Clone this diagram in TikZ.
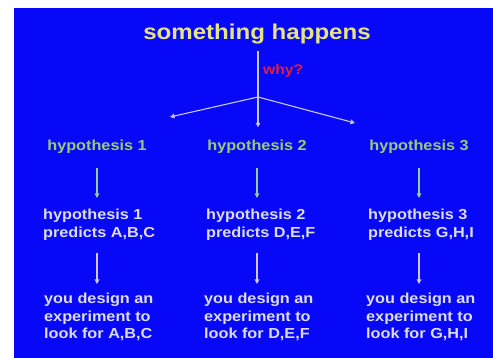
\documentclass[tikz,border=0pt]{standalone}
\usepackage{fontspec}
\newfontfamily\diagfont{Liberation Sans}[FakeStretch=1.12]
\usetikzlibrary{arrows.meta}
\definecolor{bgblue}{HTML}{0808F8}
\definecolor{titleyellow}{HTML}{E6E482}
\definecolor{whyred}{HTML}{E0203C}
\definecolor{hypgreen}{HTML}{98CC78}
\definecolor{txtwhite}{HTML}{DCDCF2}
\definecolor{arrlav}{HTML}{C8C8F0}
\definecolor{arrgreen}{HTML}{98CC88}
\begin{document}
\begin{tikzpicture}[x=1pt,y=-1pt,
  txt/.style={inner sep=0pt,font=\diagfont\bfseries\fontsize{14.5}{17.5}\selectfont},
  hyp/.style={txt,text=hypgreen,anchor=base},
  blk/.style={txt,text=txtwhite,align=left,anchor=north west},
  arr/.style={line width=1.1pt,-{Triangle[width=4.5pt,length=4.5pt]}},
  lavarr/.style={arr,draw=arrlav},
  grnarr/.style={arr,draw=arrgreen}]
\useasboundingbox (0,0) rectangle (493,358);
\fill[white] (0,0) rectangle (493,358);
\fill[bgblue] (14,8) rectangle (493,358);

\node[txt,anchor=base,text=titleyellow,font=\diagfont\bfseries\fontsize{21.5}{24}\selectfont] (title) at (257,40) {something happens};
\node[txt,anchor=base west,text=whyred,font=\diagfont\bfseries\fontsize{14}{16}\selectfont] (why) at (263,75) {why?};

\coordinate (br) at (258,97);
\coordinate (lend) at (170,117);
\coordinate (rend) at (355,123);

\node[hyp] (h1) at (97,151) {hypothesis 1};
\node[hyp] (h2) at (257,151) {hypothesis 2};
\node[hyp] (h3) at (419,151) {hypothesis 3};

\node[blk] (p1) at (43,209) {hypothesis 1\\predicts A,B,C};
\node[blk] (p2) at (206,209) {hypothesis 2\\predicts D,E,F};
\node[blk] (p3) at (368,209) {hypothesis 3\\predicts G,H,I};

\node[blk] (e1) at (44,293) {you design an\\experiment to\\look for A,B,C};
\node[blk] (e2) at (204,293) {you design an\\experiment to\\look for D,E,F};
\node[blk] (e3) at (366,293) {you design an\\experiment to\\look for G,H,I};

\draw[lavarr,shorten <=6pt,shorten >=13pt] (title.south -| br) -- (br |- h2.north);
\draw[lavarr] (br) -- (lend);
\draw[lavarr] (br) -- (rend);

\foreach \i in {1,2,3}{
  \draw[grnarr,shorten <=14pt,shorten >=11pt] (h\i.south) -- (h\i.south |- p\i.north);
  \draw[lavarr,shorten <=13pt,shorten >=9pt] (p\i.south -| h\i) -- (e\i.north -| h\i);
}
\end{tikzpicture}
\end{document}
